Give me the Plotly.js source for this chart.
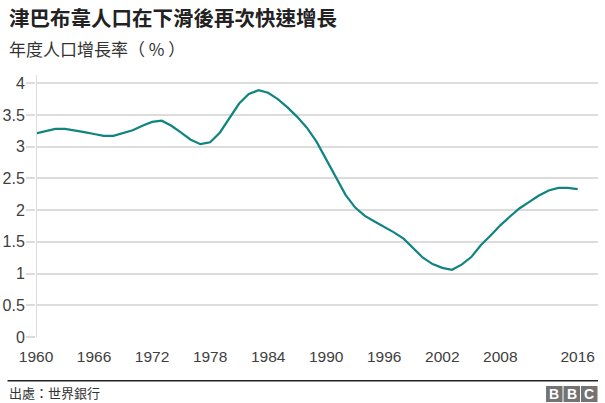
<!DOCTYPE html>
<html>
<head>
<meta charset="utf-8">
<script src="https://cdn.plot.ly/plotly-3.0.1.min.js"></script>
<style>
  html, body { margin: 0; padding: 0; background: #fff; }
  #chart { width: 605px; height: 403px; }
</style>
</head>
<body>
<div id="chart"></div>
<script>
// Zimbabwe annual population growth (%), World Bank
const years = [
  1960, 1961, 1962, 1963, 1964, 1965, 1966, 1967, 1968, 1969,
  1970, 1971, 1972, 1973, 1974, 1975, 1976, 1977, 1978, 1979,
  1980, 1981, 1982, 1983, 1984, 1985, 1986, 1987, 1988, 1989,
  1990, 1991, 1992, 1993, 1994, 1995, 1996, 1997, 1998, 1999,
  2000, 2001, 2002, 2003, 2004, 2005, 2006, 2007, 2008, 2009,
  2010, 2011, 2012, 2013, 2014, 2015, 2016
];
const growth = [
  3.21, 3.25, 3.28, 3.28, 3.26, 3.23, 3.20, 3.17, 3.17, 3.21,
  3.26, 3.33, 3.39, 3.41, 3.33, 3.22, 3.11, 3.04, 3.07, 3.22,
  3.45, 3.68, 3.83, 3.89, 3.85, 3.75, 3.62, 3.47, 3.30, 3.08,
  2.80, 2.51, 2.24, 2.04, 1.91, 1.82, 1.74, 1.65, 1.55, 1.40,
  1.25, 1.15, 1.09, 1.06, 1.14, 1.26, 1.45, 1.60, 1.76, 1.90,
  2.03, 2.13, 2.23, 2.31, 2.35, 2.35, 2.33
];
const xTicks = [1960, 1966, 1972, 1978, 1984, 1990, 1996, 2002, 2008, 2016];
const yTicks = [0, 0.5, 1, 1.5, 2, 2.5, 3, 3.5, 4];

const title = "津巴布韋人口在下滑後再次快速增長";
const subtitle = "年度人口增長率（ % ）";
const source = "出處：世界銀行";

// page geometry (pixels) -> paper coords
const W = 605, H = 403;
const M = { l: 35.5, r: 7, t: 75, b: 66 };
const pw = W - M.l - M.r, ph = H - M.t - M.b;
const px = x => (x - M.l) / pw;
const py = y => (H - M.b - y) / ph;

const font = "Arial, 'Liberation Sans', 'Noto Sans CJK TC', sans-serif";
const cjk = "'Noto Sans CJK TC', 'Liberation Sans', sans-serif";
const grey = "#dcdcdc";

const trace = {
  x: years,
  y: growth,
  type: 'scatter',
  mode: 'lines',
  line: { color: '#0f8480', width: 2.2 },
  hoverinfo: 'skip'
};

const logoBoxes = [546, 563.5, 581];
const logoLetters = ['B', 'B', 'C'];

const shapes = [
  // footer rule
  { type: 'line', xref: 'paper', yref: 'paper', x0: px(7), x1: px(598), y0: py(380.7), y1: py(380.7),
    line: { color: '#222', width: 1.5 } },
  ...logoBoxes.map(x0 => ({
    type: 'rect', xref: 'paper', yref: 'paper',
    x0: px(x0), x1: px(x0 + 16.5), y0: py(402), y1: py(386),
    fillcolor: '#737373', line: { width: 0 }
  }))
];

const annotations = [
  { text: '<b>' + title + '</b>', x: px(6), y: py(17), xref: 'paper', yref: 'paper',
    xanchor: 'left', yanchor: 'middle', showarrow: false,
    font: { family: cjk, size: 20.5, color: '#222' } },
  { text: subtitle, x: px(6), y: py(48), xref: 'paper', yref: 'paper',
    xanchor: 'left', yanchor: 'middle', showarrow: false,
    font: { family: cjk, size: 17, color: '#333' } },
  { text: source, x: px(6), y: py(392), xref: 'paper', yref: 'paper',
    xanchor: 'left', yanchor: 'middle', showarrow: false,
    font: { family: cjk, size: 13, color: '#333' } },
  ...logoBoxes.map((x0, i) => ({
    text: '<b>' + logoLetters[i] + '</b>', x: px(x0 + 8.25), y: py(394), xref: 'paper', yref: 'paper',
    xanchor: 'center', yanchor: 'middle', showarrow: false,
    font: { family: font, size: 14, color: '#fff' }
  }))
];

const layout = {
  width: W, height: H,
  margin: M,
  paper_bgcolor: '#fff', plot_bgcolor: '#fff',
  showlegend: false,
  font: { family: font, size: 15, color: '#404040' },
  xaxis: {
    range: [1960, 2018.1],
    tickvals: xTicks,
    ticktext: xTicks.map(String),
    showgrid: false, zeroline: false,
    showline: false, ticks: '',
    ticklabelstandoff: 8,
    tickfont: { family: font, size: 15.5, color: '#404040' },
    fixedrange: true
  },
  yaxis: {
    range: [0, 4.13],
    tickvals: yTicks,
    ticktext: yTicks.map(String),
    showgrid: true, gridcolor: grey, gridwidth: 2,
    zeroline: false,
    showline: false,
    ticks: 'outside', ticklen: 9, tickwidth: 2, tickcolor: grey,
    ticklabelstandoff: -2,
    tickfont: { family: font, size: 16, color: '#404040' },
    fixedrange: true
  },
  shapes: [
    // left axis line
    { type: 'line', xref: 'x', yref: 'paper', x0: 1960, x1: 1960, y0: 0, y1: 1,
      line: { color: grey, width: 2 } },
    ...shapes
  ],
  annotations
};

Plotly.newPlot('chart', [trace], layout, { displayModeBar: false, staticPlot: true });
</script>
</body>
</html>
